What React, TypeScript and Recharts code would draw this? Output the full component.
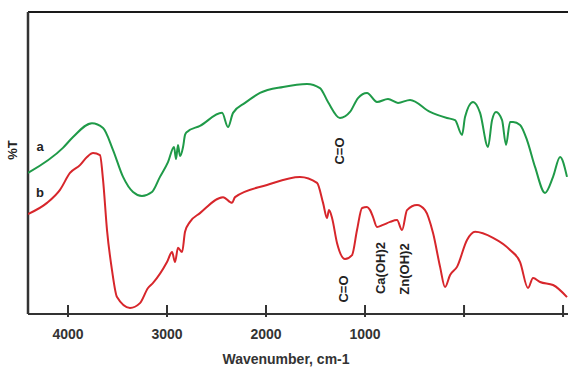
import { LineChart, Line, XAxis, YAxis, ReferenceLine } from 'recharts';

// FTIR spectra, wavenumber (cm-1) vs %T (arbitrary offset)
const xTicks = [4000, 3000, 2000, 1000, 0, -1000];
const xTickLabels: Record<number, string> = { 4000: '4000', 3000: '3000', 2000: '2000', 1000: '1000' };
const xMin = -1050;
const xMax = 4404;

// curve a (green)
const aWn = [4404, 4051, 3949, 3758, 3646, 3545, 3444, 3343, 3253, 3152, 3071, 2990, 2929, 2909, 2889, 2869, 2838, 2818, 2798, 2667, 2444, 2384, 2333, 2212, 2061, 1828, 1586, 1455, 1374, 1253, 1152, 1071, 980, 879, 768, 667, 545, 343, 172, 91, 20, -10, -91, -162, -242, -283, -323, -384, -424, -465, -495, -566, -636, -717, -818, -899, -970, -1040];
const aT = [46.7, 55.0, 58.6, 63.2, 61.6, 54.3, 45.4, 40.4, 39.1, 40.4, 45.4, 50.3, 55.3, 51.3, 56.0, 52.3, 55.3, 59.3, 60.3, 62.3, 66.6, 61.9, 66.6, 69.9, 73.2, 75.2, 76.2, 74.8, 70.2, 64.9, 66.9, 71.5, 73.2, 70.2, 71.2, 69.9, 70.9, 66.9, 64.9, 64.2, 59.3, 65.2, 70.2, 66.6, 55.3, 64.2, 66.9, 64.2, 56.0, 63.6, 63.6, 62.6, 57.6, 48.7, 40.1, 45.4, 52.0, 45.4];

// curve b (red)
const bWn = [4404, 4212, 4081, 3980, 3879, 3808, 3747, 3677, 3646, 3606, 3556, 3505, 3374, 3273, 3192, 3141, 3000, 2949, 2919, 2889, 2848, 2818, 2768, 2667, 2434, 2343, 2313, 1990, 1657, 1485, 1424, 1384, 1364, 1333, 1283, 1202, 1131, 1081, 1030, 980, 949, 919, 879, 818, 747, 677, 626, 576, 475, 394, 313, 242, 192, 141, 71, -30, -111, -293, -465, -566, -646, -697, -768, -899, -1040];
const bT = [33.1, 36.8, 41.1, 46.7, 49.3, 52.0, 53.3, 52.6, 44.4, 27.8, 14.6, 5.6, 2.0, 3.6, 8.6, 10.3, 17.2, 20.5, 17.2, 21.9, 20.5, 27.2, 30.5, 33.4, 38.7, 36.8, 38.7, 42.7, 45.4, 43.4, 36.8, 31.8, 34.4, 31.8, 23.5, 18.2, 19.5, 27.8, 35.1, 35.4, 34.4, 32.1, 28.8, 29.5, 30.5, 31.1, 27.8, 34.4, 36.1, 34.4, 26.8, 15.6, 8.9, 12.9, 15.6, 24.5, 27.2, 25.2, 21.2, 17.2, 8.6, 11.9, 10.6, 9.6, 5.6];

const seriesA = aWn.map((wn, i) => ({ wn, t: aT[i] }));
const seriesB = bWn.map((wn, i) => ({ wn, t: bT[i] }));

const W = 568;
const H = 367;
const font = '"Liberation Sans", Arial, sans-serif';

const WaveTick = (props: any) => {
  const { x, y, payload } = props;
  return (
    <g>
      <line x1={x} x2={x} y1={y - 9} y2={y + 3} stroke="#333" strokeWidth={2} />
      <text x={x} y={y + 20} textAnchor="middle" dominantBaseline="central" fontFamily={font} fontWeight="bold" fontSize={14} fill="#333">
        {xTickLabels[payload.value] ?? ''}
      </text>
    </g>
  );
};

const vLabel = (x: number, y: number, s: string) => (
  <text x={x} y={y} transform={`rotate(-90, ${x}, ${y})`} textAnchor="middle" dominantBaseline="central" fontFamily={font} fontWeight="bold" fontSize={13} fill="#222">
    {s}
  </text>
);

export default function App() {
  return (
    <div style={{ position: 'absolute', left: 0, top: 0, width: W, height: H, background: '#fff' }}>
      <LineChart width={W} height={H} margin={{ top: 12, right: 0, bottom: 0, left: 28 }}>
        <XAxis
          type="number"
          dataKey="wn"
          domain={[xMin, xMax]}
          reversed
          allowDataOverflow
          ticks={xTicks}
          interval={0}
          tickFormatter={(v: number) => xTickLabels[v] ?? ''}
          tick={WaveTick}
          tickLine={false}
          tickSize={0}
          tickMargin={0}
          height={53}
          axisLine={{ stroke: '#333', strokeWidth: 2 }}
        />
        <YAxis type="number" domain={[0, 100]} hide />
        <ReferenceLine y={100} stroke="#1a1a1a" strokeWidth={2} />
        <ReferenceLine x={xMax} stroke="#333" strokeWidth={2.5} />
        <Line data={seriesA} dataKey="t" type="monotone" stroke="#1f9a48" strokeWidth={2} dot={false} isAnimationActive={false} />
        <Line data={seriesB} dataKey="t" type="monotone" stroke="#d7262b" strokeWidth={2} dot={false} isAnimationActive={false} />
      </LineChart>
      <svg width={W} height={H} style={{ position: 'absolute', left: 0, top: 0, pointerEvents: 'none' }}>
        {vLabel(12, 150, '%T')}
        <text x={40} y={146} textAnchor="middle" dominantBaseline="central" fontFamily={font} fontWeight="bold" fontSize={13} fill="#222">a</text>
        <text x={40} y={192} textAnchor="middle" dominantBaseline="central" fontFamily={font} fontWeight="bold" fontSize={13} fill="#222">b</text>
        {vLabel(339, 151, 'C=O')}
        {vLabel(343, 289, 'C=O')}
        {vLabel(380, 268, 'Ca(OH)2')}
        {vLabel(404, 269, 'Zn(OH)2')}
        <text x={286} y={359} textAnchor="middle" dominantBaseline="central" fontFamily={font} fontWeight="bold" fontSize={14} fill="#333">
          Wavenumber, cm-1
        </text>
      </svg>
    </div>
  );
}
